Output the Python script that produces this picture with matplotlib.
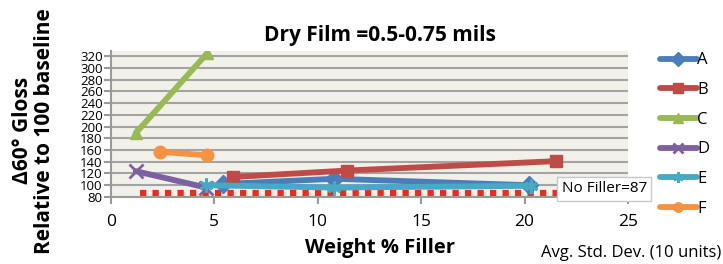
import matplotlib.pyplot as plt

plt.rcParams['font.family'] = ['Open Sans', 'DejaVu Sans']

# series (weight % filler, delta 60 gloss)
a_x = [5.4, 10.8, 20.2]
a_y = [102, 111, 100]
b_x = [5.9, 11.4, 21.5]
b_y = [114, 125, 141]
c_x = [1.2, 4.65]
c_y = [189, 325]
d_x = [1.2, 4.6]
d_y = [124, 96]
e_x = [4.6, 10.8, 20.3]
e_y = [100, 96, 99]
f_x = [2.35, 4.65]
f_y = [157, 151]
no_filler = 87
no_filler_x = [1.4, 21.6]

series = [
    ('A', a_x, a_y, '#4a7ebb', 'D'),
    ('B', b_x, b_y, '#be4b48', 's'),
    ('C', c_x, c_y, '#98b954', '^'),
    ('D', d_x, d_y, '#7d60a0', 'x'),
    ('E', e_x, e_y, '#46aac5', (6, 2, 0)),
    ('F', f_x, f_y, '#f69240', 'o'),
]

fig = plt.figure(figsize=(7.23, 2.64), dpi=100)
ax = fig.add_axes([0.1535, 0.254, 0.715, 0.553])
ax.set_facecolor('#f1f0e9')

yticks = list(range(80, 321, 20))
ax.set_yticks(yticks)
ax.set_xticks([0, 5, 10, 15, 20, 25])
ax.set_xlim(0, 25)
ax.set_ylim(80, 329)
ax.grid(axis='y', color='#a3a3a3', linewidth=1.5)
ax.set_axisbelow(True)

ax.plot(no_filler_x, [no_filler, no_filler], color='#f2281c', linewidth=4.5,
        linestyle=(0, (1, 1)), dash_capstyle='butt', zorder=2)

for name, xs, ys, col, mk in series:
    thin = mk == 'x' or isinstance(mk, tuple)
    ax.plot(xs, ys, color=col, linewidth=4.2, marker=mk,
            markersize=10 if thin else 9,
            markeredgewidth=2 if thin else 1,
            markeredgecolor=col, label=name, zorder=3, solid_capstyle='round')

for s in ['top', 'right']:
    ax.spines[s].set_visible(False)
for s in ['left', 'bottom']:
    ax.spines[s].set_color('#9a9a9a')
    ax.spines[s].set_linewidth(1.5)
ax.tick_params(axis='both', direction='out', color='#9a9a9a', width=1.5, length=5)
ax.tick_params(axis='y', labelsize=9.5, pad=1)
ax.tick_params(axis='x', labelsize=12.5, pad=7)

ax.set_title('Dry Film =0.5-0.75 mils', fontsize=15, fontweight='bold', pad=7,
             x=0.52)
ax.set_xlabel('Weight % Filler', fontsize=14.5, fontweight='bold')
ax.xaxis.set_label_coords(0.52, -0.35)
ax.xaxis.label.set_va('center')
fig.text(0.046, 0.505, 'Δ60° Gloss\nRelative to 100 baseline', rotation=90,
         ha='center', va='center', fontsize=15, fontweight='bold',
         multialignment='center', linespacing=1.05)
fig.text(0.998, 0.04, 'Avg. Std. Dev. (10 units)', ha='right', va='center',
         fontsize=12)

ax.text(0.954, 0.055, 'No Filler=87', transform=ax.transAxes, ha='center',
        va='center', fontsize=11, clip_on=False, zorder=5,
        bbox=dict(boxstyle='square,pad=0.3', facecolor='white',
                  edgecolor='#c8c8c8', linewidth=1))

ax.legend(loc='upper left', bbox_to_anchor=(1.062, 0.99), frameon=False,
          fontsize=12, handlelength=2.2, handletextpad=0.05,
          labelspacing=0.82, markerscale=0.75, borderpad=0, borderaxespad=0)

fig.savefig('out.png', dpi=100)
